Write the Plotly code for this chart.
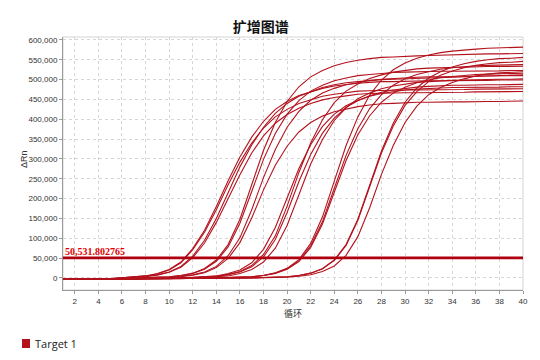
import plotly.graph_objects as go

# ---- data -------------------------------------------------------------
cycles = list(range(1, 41))
threshold = 50531.802765
series_name = "Target 1"

# delta Rn per cycle, in thousands, one list per well
well_a1_k = [-4,-4,-3,-3,-2,0,2,5,11,21,40,74,120,180,245,305,355,395,425,445,460,470,478,484,488,491,493,495,495,496,496,497,497,497,498,498,498,499,499,499]
well_a2_k = [-3,-3,-3,-2,-2,0,2,5,10,20,38,71,115,172,235,292,340,378,406,425,440,450,458,463,467,471,472,473,473,474,474,474,475,475,475,476,476,476,476,477]
well_a3_k = [-4,-3,-3,-3,-2,-1,1,3,7,14,27,51,88,140,200,260,315,358,390,412,428,440,449,455,459,463,465,466,466,467,467,467,468,468,468,469,469,469,470,470]
well_a4_k = [-3,-3,-2,-2,-2,0,2,4,8,15,29,55,95,150,215,280,335,380,415,440,458,470,480,487,492,495,498,500,501,502,503,504,505,506,507,508,509,510,511,512]
well_b1_k = [-4,-4,-3,-3,-2,-2,-1,0,1,3,6,11,22,42,78,138,218,299,364,413,447,471,486,497,504,510,513,516,518,519,520,520,521,521,521,522,522,522,523,523]
well_b2_k = [-3,-3,-3,-2,-2,-2,-1,-1,0,1,3,7,13,26,49,89,151,222,284,332,368,392,408,419,426,432,436,439,440,442,443,443,444,444,444,445,445,445,445,446]
well_b3_k = [-4,-3,-3,-3,-2,-2,-1,-1,0,1,4,8,15,29,56,101,172,253,324,380,420,448,466,478,487,493,498,501,503,505,506,507,507,508,508,509,509,510,510,510]
well_b4_k = [-3,-3,-3,-2,-2,-1,-1,0,2,3,6,12,24,45,84,148,235,322,392,445,482,507,523,535,543,549,553,556,557,559,560,561,562,563,564,564,565,565,566,566]
well_c1_k = [-4,-4,-3,-3,-3,-2,-2,-2,-1,-1,0,1,2,4,9,16,31,59,106,181,266,340,399,442,471,489,503,512,519,523,527,529,530,531,532,532,533,533,533,534]
well_c2_k = [-3,-3,-3,-3,-2,-2,-2,-1,-1,-1,0,1,2,4,8,15,28,53,97,165,243,311,365,403,430,447,459,468,474,478,481,483,485,486,486,487,487,487,488,488]
well_c3_k = [-4,-3,-3,-3,-3,-2,-2,-2,-1,-1,-1,0,1,3,5,11,21,40,75,132,210,287,349,397,429,452,466,477,484,489,493,495,497,498,499,500,500,501,501,502]
well_c4_k = [-3,-3,-3,-2,-2,-2,-2,-1,-1,-1,0,1,3,5,11,20,38,72,127,202,276,336,382,413,434,448,458,465,470,474,476,478,479,480,480,481,481,481,482,482]
well_d1_k = [-4,-4,-4,-3,-3,-3,-2,-2,-2,-1,-1,-1,0,0,1,2,3,6,13,24,46,87,154,244,334,406,461,499,525,542,554,562,568,572,575,577,579,580,581,582]
well_d2_k = [-3,-3,-3,-3,-3,-2,-2,-2,-2,-1,-1,-1,0,0,1,2,3,6,12,23,43,81,142,226,309,376,427,462,486,502,513,520,526,530,533,535,536,537,537,538]
well_d3_k = [-4,-3,-3,-3,-3,-3,-2,-2,-2,-2,-1,-1,-1,0,1,2,3,6,11,22,41,77,136,216,296,361,409,443,466,481,492,499,505,508,511,513,514,515,515,516]
well_e1_k = [-4,-4,-4,-3,-3,-3,-3,-2,-2,-2,-2,-1,-1,-1,0,0,0,1,2,3,6,12,23,45,84,148,234,320,390,443,479,504,520,532,540,546,550,553,554,556]
well_e2_k = [-3,-3,-3,-3,-3,-3,-2,-2,-2,-2,-2,-1,-1,-1,-1,0,0,1,2,3,6,12,23,44,82,145,230,315,383,435,470,495,511,522,530,536,540,543,544,546]
well_e3_k = [-4,-4,-3,-3,-3,-3,-3,-2,-2,-2,-2,-2,-1,-1,-1,-1,0,0,1,2,4,8,16,30,57,104,177,261,334,392,433,462,480,493,502,509,514,517,519,520]

wells = [well_a1_k, well_a2_k, well_a3_k, well_a4_k,
         well_b1_k, well_b2_k, well_b3_k, well_b4_k,
         well_c1_k, well_c2_k, well_c3_k, well_c4_k,
         well_d1_k, well_d2_k, well_d3_k,
         well_e1_k, well_e2_k, well_e3_k]

x_ticks = list(range(2, 41, 2))
y_ticks = list(range(0, 600001, 50000))

# ---- figure -----------------------------------------------------------
CURVE = "#b3121d"
fig = go.Figure()
for w in wells:
    fig.add_trace(go.Scatter(
        x=cycles, y=[v * 1000 for v in w], mode="lines",
        line=dict(color=CURVE, width=1.1), showlegend=False, hoverinfo="skip"))

# threshold line + label
fig.add_shape(type="line", xref="paper", x0=0, x1=1, yref="y",
              y0=threshold, y1=threshold,
              line=dict(color="#b00010", width=2.6), layer="above")
fig.add_annotation(x=0, xref="paper", xanchor="left", y=threshold,
                   yref="y", yanchor="bottom", yshift=-1,
                   text="<b>" + f"{threshold:,.6f}" + "</b>", showarrow=False,
                   font=dict(family="Liberation Serif", size=10, color="#e00000"))

# light frame around plot area
fig.add_shape(type="rect", xref="paper", yref="paper", x0=0, x1=1, y0=0, y1=1,
              line=dict(color="#d4d4d4", width=1), layer="below")

# legend (drawn as a swatch and a label, below-left of the plot)
fig.add_shape(type="rect", xref="paper", yref="paper",
              x0=-0.0891, x1=-0.0717, y0=-0.2292, y1=-0.1937,
              fillcolor=CURVE, line=dict(color=CURVE, width=0))
fig.add_annotation(x=-0.0652, xref="paper", xanchor="left",
                   y=-0.2115, yref="paper", yanchor="middle",
                   text=series_name, showarrow=False,
                   font=dict(family="Open Sans", size=11, color="#222222"))

# y-axis title
fig.add_annotation(x=-0.0848, xref="paper", xanchor="center",
                   y=0.518, yref="paper", yanchor="middle",
                   text="ΔRn", textangle=-90, showarrow=False,
                   font=dict(family="Liberation Sans", size=9, color="#333333"))

axis_font = dict(family="Liberation Sans", size=8, color="#333333")
fig.update_layout(
    width=540, height=360,
    margin=dict(l=63, r=17, t=37, b=70),
    paper_bgcolor="white", plot_bgcolor="white",
    title=dict(text="<b>扩增图谱</b>", xref="container", x=0.483,
               xanchor="center", y=0.926, yanchor="middle",
               font=dict(family="Noto Sans CJK SC", size=14, color="#111111")),
    showlegend=False,
    xaxis=dict(range=[1, 40], tickvals=x_ticks, tickfont=axis_font,
               showgrid=True, gridcolor="#d6d6d6", griddash="dot", gridwidth=1,
               zeroline=False, showline=True, linecolor="#9a9a9a",
               ticks="outside", ticklen=3, tickcolor="#9a9a9a",
               title=dict(text="循环", standoff=6,
                          font=dict(family="Noto Sans CJK SC", size=9, color="#333333"))),
    yaxis=dict(range=[-30500, 607500], tickvals=y_ticks, tickformat=",d",
               tickfont=axis_font,
               showgrid=True, gridcolor="#d6d6d6", griddash="dot", gridwidth=1,
               zeroline=False, showline=True, linecolor="#9a9a9a",
               ticks="outside", ticklen=3, tickcolor="#9a9a9a"),
)

fig.write_html("out.html",
               config={"displayModeBar": False},
               post_script="document.body.style.margin='0';document.body.style.padding='0';")
